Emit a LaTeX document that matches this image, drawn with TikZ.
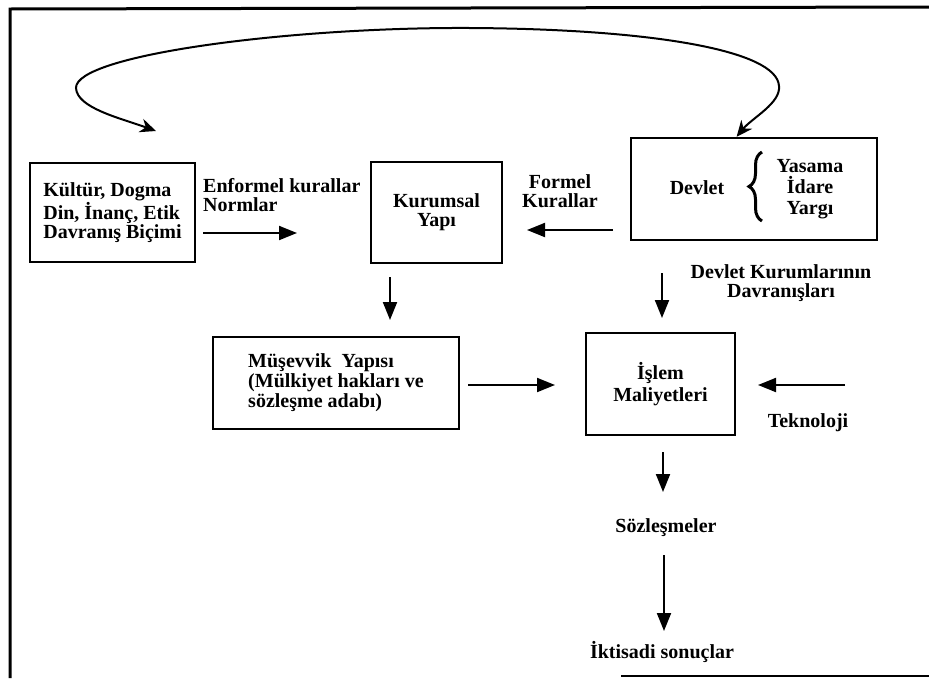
\documentclass[tikz,border=0pt]{standalone}
\usepackage{fontspec}
\setmainfont{Liberation Serif}
\usetikzlibrary{arrows.meta,decorations.pathreplacing,calc}
\begin{document}
\begin{tikzpicture}[x=1pt,y=-1pt,
  txt/.style={font=\bfseries\fontsize{20}{19}\selectfont, inner sep=0pt},
  box/.style={draw, line width=2.5pt, inner sep=0pt, font=\bfseries\fontsize{20}{19}\selectfont},
  arr/.style={line width=2pt, -{Triangle[length=18pt,width=14pt]}},
  curv/.style={line width=2pt, {Stealth[length=16pt,width=14pt]}-{Stealth[length=16pt,width=14pt]}}
]
\useasboundingbox (0,0) rectangle (929,678);
% frame
\draw[line width=3pt] (10,678) -- (10,9) -- (929,7);
\draw[line width=1.2pt] (621,676) -- (929,676);

% boxes
\node[box, minimum width=165pt, minimum height=99pt, align=left] (kul) at (112.5,212.5)
  {Kültür, Dogma\\Din, İnanç, Etik\\Davranış Biçimi};
\node[box, minimum width=131pt, minimum height=101pt, align=center] (kur) at (436.5,212.5)
  {Kurumsal\\Yapı};
\node[box, minimum width=246pt, minimum height=102pt] (dev) at (754,189) {};
\node[box, minimum width=246pt, minimum height=92pt, align=left] (mus) at (336,383)
  {Müşevvik\ \ Yapısı\\[1pt](Mülkiyet hakları ve\\[1pt]sözleşme adabı)};
\node[box, minimum width=149pt, minimum height=102pt, align=center] (isl) at (660.5,384)
  {İşlem\\[3pt]Maliyetleri};

% texts
\node[txt, anchor=west, align=left] (enf) at (203,195.5) {Enformel kurallar\\Normlar};
\node[txt, align=center] (frm) at (560,191.5) {Formel\\Kurallar};
\node[txt] (devt) at (697,188) {Devlet};
\node[txt, align=center, font=\bfseries\fontsize{20}{21}\selectfont] (yas) at (810,189) {Yasama\\İdare\\Yargı};
\draw[line width=3pt, decorate, decoration={brace, amplitude=13pt}] (762,221) -- (762,152);
\node[txt, align=center, font=\bfseries\fontsize{20}{19}\selectfont] (dkd) at (781,283.5) {Devlet Kurumlarının\\Davranışları};
\node[txt] (tek) at (808,423) {Teknoloji};
\node[txt] (soz) at (666,528) {Sözleşmeler};
\node[txt] (ikt) at (662,652) {İktisadi sonuçlar};

% arrow end points
\coordinate (e1) at (203,233); \coordinate (e2) at (297,233);
\coordinate (f1) at (613,230); \coordinate (f2) at (527,230);
\coordinate (k1) at (390,277); \coordinate (k2) at (390,320);
\coordinate (d1) at (662,273); \coordinate (d2) at (662,318);
\coordinate (m1) at (468,385); \coordinate (m2) at (555,385);
\coordinate (t1) at (845,385); \coordinate (t2) at (758,385);
\coordinate (i1) at (663,452); \coordinate (i2) at (663,492);
\coordinate (s1) at (664,555); \coordinate (s2) at (664,631);

\draw[arr] (e1) -- (e2);
\draw[arr] (f1) -- (f2);
\draw[arr] (k1) -- (k2);
\draw[arr] (d1) -- (d2);
\draw[arr] (m1) -- (m2);
\draw[arr] (t1) -- (t2);
\draw[arr] (i1) -- (i2);
\draw[arr] (s1) -- (s2);

% feedback curve
\coordinate (cA) at ($(dev.north west)!0.43!(dev.north east)$);
\coordinate (cB) at (156,131);
\draw[curv] (cA) .. controls (752,118) and (781,103) .. (779,86)
  .. controls (777,50) and (650,29) .. (470,28)
  .. controls (290,27) and (75,55) .. (76,88)
  .. controls (77,108) and (120,118) .. (cB);
\end{tikzpicture}
\end{document}
